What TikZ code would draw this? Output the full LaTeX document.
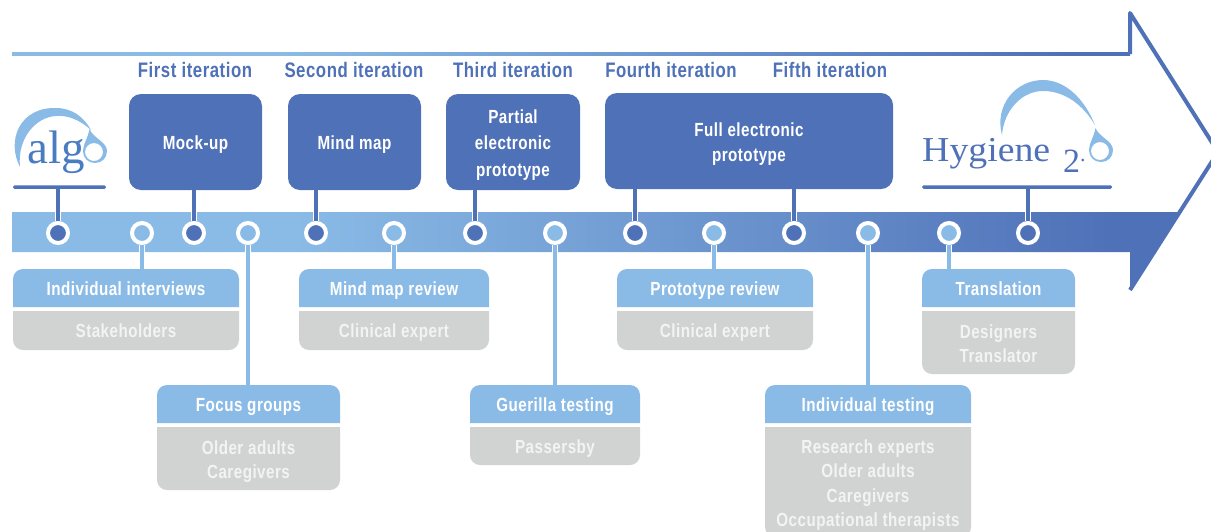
\documentclass[tikz,border=0pt]{standalone}
\usepackage{fontspec}
\usetikzlibrary{positioning,backgrounds}
\newfontfamily\labelfont[FakeStretch=0.8,LetterSpace=2.5]{Liberation Sans}
\newfontfamily\logofont{Liberation Serif}
\newfontfamily\widelogofont[FakeStretch=1.08]{Liberation Serif}
\newcommand{\boxstrut}{\vrule width 0pt height 18.5pt depth 4.5pt}
\newcommand{\tallline}{\rule{0pt}{20pt}}
\definecolor{darkblue}{HTML}{4F71B8}
\definecolor{lightblue}{HTML}{8ABBE6}
\definecolor{logoblue}{HTML}{4A7CC2}
\definecolor{greyfill}{HTML}{D1D2D2}
\definecolor{greytext}{HTML}{F3F3F3}
\pgfdeclarehorizontalshading{bandshade}{100bp}{color(0bp)=(lightblue); color(37bp)=(lightblue); color(72bp)=(darkblue); color(100bp)=(darkblue)}
\tikzset{
  boxfont/.style={font=\labelfont\bfseries\fontsize{19}{24.5}\selectfont,execute at begin node=\boxstrut,execute at end node=\boxstrut},
  iterlabel/.style={boxfont,font=\labelfont\bfseries\fontsize{21}{24.5}\selectfont,text=darkblue,inner sep=0pt},
  protobox/.style={boxfont,text=white,fill=darkblue,rounded corners=12pt,align=center,minimum height=96pt,inner sep=0pt},
  headbox/.style={boxfont,text=white,minimum height=38pt,inner sep=0pt,outer sep=0pt},
  peoplebox/.style={boxfont,text=greytext,align=center,inner sep=0pt,outer sep=0pt},
  darkdot/.style={circle,draw=white,line width=4pt,fill=darkblue,minimum size=20pt,inner sep=0pt},
  lightdot/.style={circle,draw=white,line width=4pt,fill=lightblue,minimum size=20pt,inner sep=0pt},
  darkstem/.style={draw=white,line width=1pt,double=darkblue,double distance=4pt},
  lightstem/.style={draw=white,line width=1pt,double=lightblue,double distance=4pt},
  logobar/.style={fill=darkblue,minimum height=3.5pt,inner sep=0pt,rounded corners=1.5pt},
  dropring/.pic={
    \fill[lightblue,even odd rule] (-5.5,-22) .. controls (-2,-13) and (12,-9) .. (12,0) .. controls (12,7) and (7,12) .. (0,12) .. controls (-7,12) and (-12,7) .. (-12,0) .. controls (-12,-7) and (-7,-13) .. (-5.5,-22) -- cycle
    (-1,1) circle[radius=9pt];
  }
}
\begin{document}
\begin{tikzpicture}[x=1pt,y=-1pt]
\clip (0,0) rectangle (1211,531);
\shade[shading=bandshade] (12,52) rectangle (1130,55.5);
\draw[darkblue,line width=4pt,line join=round] (1130,54) -- (1130,13) -- (1218,152) -- (1130,290);
\shade[shading=bandshade] (12,212) -- (1180,212) -- (1130,290) -- (1130,252) -- (12,252) -- cycle;

\node[iterlabel] at (195,70) (first) {First iteration};
\node[iterlabel] at (354,70) (second) {Second iteration};
\node[iterlabel] at (513,70) (third) {Third iteration};
\node[iterlabel] at (671,70) (fourth) {Fourth iteration};
\node[iterlabel] at (830,70) (fifth) {Fifth iteration};

\node[protobox,minimum width=133pt] at (195.5,142) (mockup) {Mock-up};
\node[protobox,minimum width=133pt] at (354.5,142) (mindmap) {Mind map};
\node[protobox,minimum width=134pt] at (513,142) (partial) {\tallline Partial\\[2pt]electronic\\[2pt]prototype};
\node[protobox,minimum width=288pt] at (749,141) (full) {\tallline Full electronic\\prototype};

\node[text=logoblue,font=\logofont\fontsize{47}{47}\selectfont,anchor=base west,inner sep=0pt] at (27,163) (algo) {alg};
\node[text=darkblue,font=\widelogofont\fontsize{35}{35}\selectfont,anchor=base west,inner sep=0pt] at (922,161) (hygiene) {Hygiene};
\node[text=darkblue,font=\logofont\fontsize{34}{34}\selectfont,anchor=base west,inner sep=0pt] at (1063,172) (two) {2\raisebox{11pt}{\fontsize{22}{22}\selectfont.}};
\fill[lightblue] (20,167) .. controls (6,140) and (20,107) .. (56,108) .. controls (72,108) and (84,117) .. (91,130) .. controls (80,120) and (68,115) .. (56,116) .. controls (36,117) and (17,138) .. (20,167) -- cycle;
\pic at (95,151) {dropring};
\fill[lightblue] (1002,135) .. controls (994,105) and (1016,80) .. (1043,80) .. controls (1066,80) and (1085,100) .. (1095,125) .. controls (1083,105) and (1065,91) .. (1043,91) .. controls (1022,91) and (1004,110) .. (1002,135) -- cycle;
\pic at (1101,150) {dropring};
\node[logobar,minimum width=93pt] at (59.5,187) (algobar) {};
\node[logobar,minimum width=190pt] at (1017,187) (hygienebar) {};

\node[headbox,minimum width=226pt] at (126,288) (interviews) {Individual interviews};
\node[peoplebox,minimum width=226pt,minimum height=39pt,below=4pt of interviews] (stakeholders) {Stakeholders};
\node[headbox,minimum width=183pt] at (248.5,404) (focus) {Focus groups};
\node[peoplebox,minimum width=183pt,minimum height=63pt,below=4pt of focus] (adults) {\tallline Older adults\\Caregivers};
\node[headbox,minimum width=190pt] at (394,288) (mapreview) {Mind map review};
\node[peoplebox,minimum width=190pt,minimum height=39pt,below=4pt of mapreview] (mapexpert) {Clinical expert};
\node[headbox,minimum width=170pt] at (555,404) (guerilla) {Guerilla testing};
\node[peoplebox,minimum width=170pt,minimum height=38pt,below=4pt of guerilla] (passersby) {Passersby};
\node[headbox,minimum width=196pt] at (715,288) (protoreview) {Prototype review};
\node[peoplebox,minimum width=196pt,minimum height=39pt,below=4pt of protoreview] (protoexpert) {Clinical expert};
\node[headbox,minimum width=206pt] at (868,404) (testing) {Individual testing};
\node[peoplebox,minimum width=206pt,minimum height=110pt,below=4pt of testing] (testers) {\tallline Research experts\\Older adults\\Caregivers\\Occupational therapists};
\node[headbox,minimum width=153pt] at (998.5,288) (translation) {Translation};
\node[peoplebox,minimum width=153pt,minimum height=63pt,below=4pt of translation] (translators) {\tallline Designers\\Translator};

\begin{scope}[on background layer]
\foreach \n in {interviews,focus,mapreview,guerilla,protoreview,testing,translation}
  \fill[lightblue] (\n.south west) [rounded corners=10pt] -- (\n.north west) -- (\n.north east) [sharp corners] -- (\n.south east) -- cycle;
\foreach \n in {stakeholders,adults,mapexpert,passersby,protoexpert,testers,translators}
  \fill[greyfill] (\n.north west) [rounded corners=10pt] -- (\n.south west) -- (\n.south east) [sharp corners] -- (\n.north east) -- cycle;
\end{scope}

\node[darkdot] at (58,233) (dalgo) {};
\node[lightdot] at (142,233) (dinterviews) {};
\node[darkdot] at (194,233) (dmockup) {};
\node[lightdot] at (248,233) (dfocus) {};
\node[darkdot] at (316,233) (dmindmap) {};
\node[lightdot] at (394,233) (dmapreview) {};
\node[darkdot] at (475,233) (dpartial) {};
\node[lightdot] at (555,233) (dguerilla) {};
\node[darkdot] at (635,233) (dfourth) {};
\node[lightdot] at (714,233) (dprotoreview) {};
\node[darkdot] at (794,233) (dfifth) {};
\node[lightdot] at (868,233) (dtesting) {};
\node[lightdot] at (949,233) (dtranslation) {};
\node[darkdot] at (1028,233) (dhygiene) {};

\draw[darkstem] (dalgo.north) -- (dalgo.north |- algobar.south);
\draw[darkstem] (dmockup.north) -- (dmockup.north |- mockup.south);
\draw[darkstem] (dmindmap.north) -- (dmindmap.north |- mindmap.south);
\draw[darkstem] (dpartial.north) -- (dpartial.north |- partial.south);
\draw[darkstem] (dfourth.north) -- (dfourth.north |- full.south);
\draw[darkstem] (dfifth.north) -- (dfifth.north |- full.south);
\draw[darkstem] (dhygiene.north) -- (dhygiene.north |- hygienebar.south);
\draw[lightstem] (dinterviews.south) -- (dinterviews.south |- interviews.north);
\draw[lightstem] (dfocus.south) -- (dfocus.south |- focus.north);
\draw[lightstem] (dmapreview.south) -- (dmapreview.south |- mapreview.north);
\draw[lightstem] (dguerilla.south) -- (dguerilla.south |- guerilla.north);
\draw[lightstem] (dprotoreview.south) -- (dprotoreview.south |- protoreview.north);
\draw[lightstem] (dtesting.south) -- (dtesting.south |- testing.north);
\draw[lightstem] (dtranslation.south) -- (dtranslation.south |- translation.north);
\end{tikzpicture}
\end{document}
